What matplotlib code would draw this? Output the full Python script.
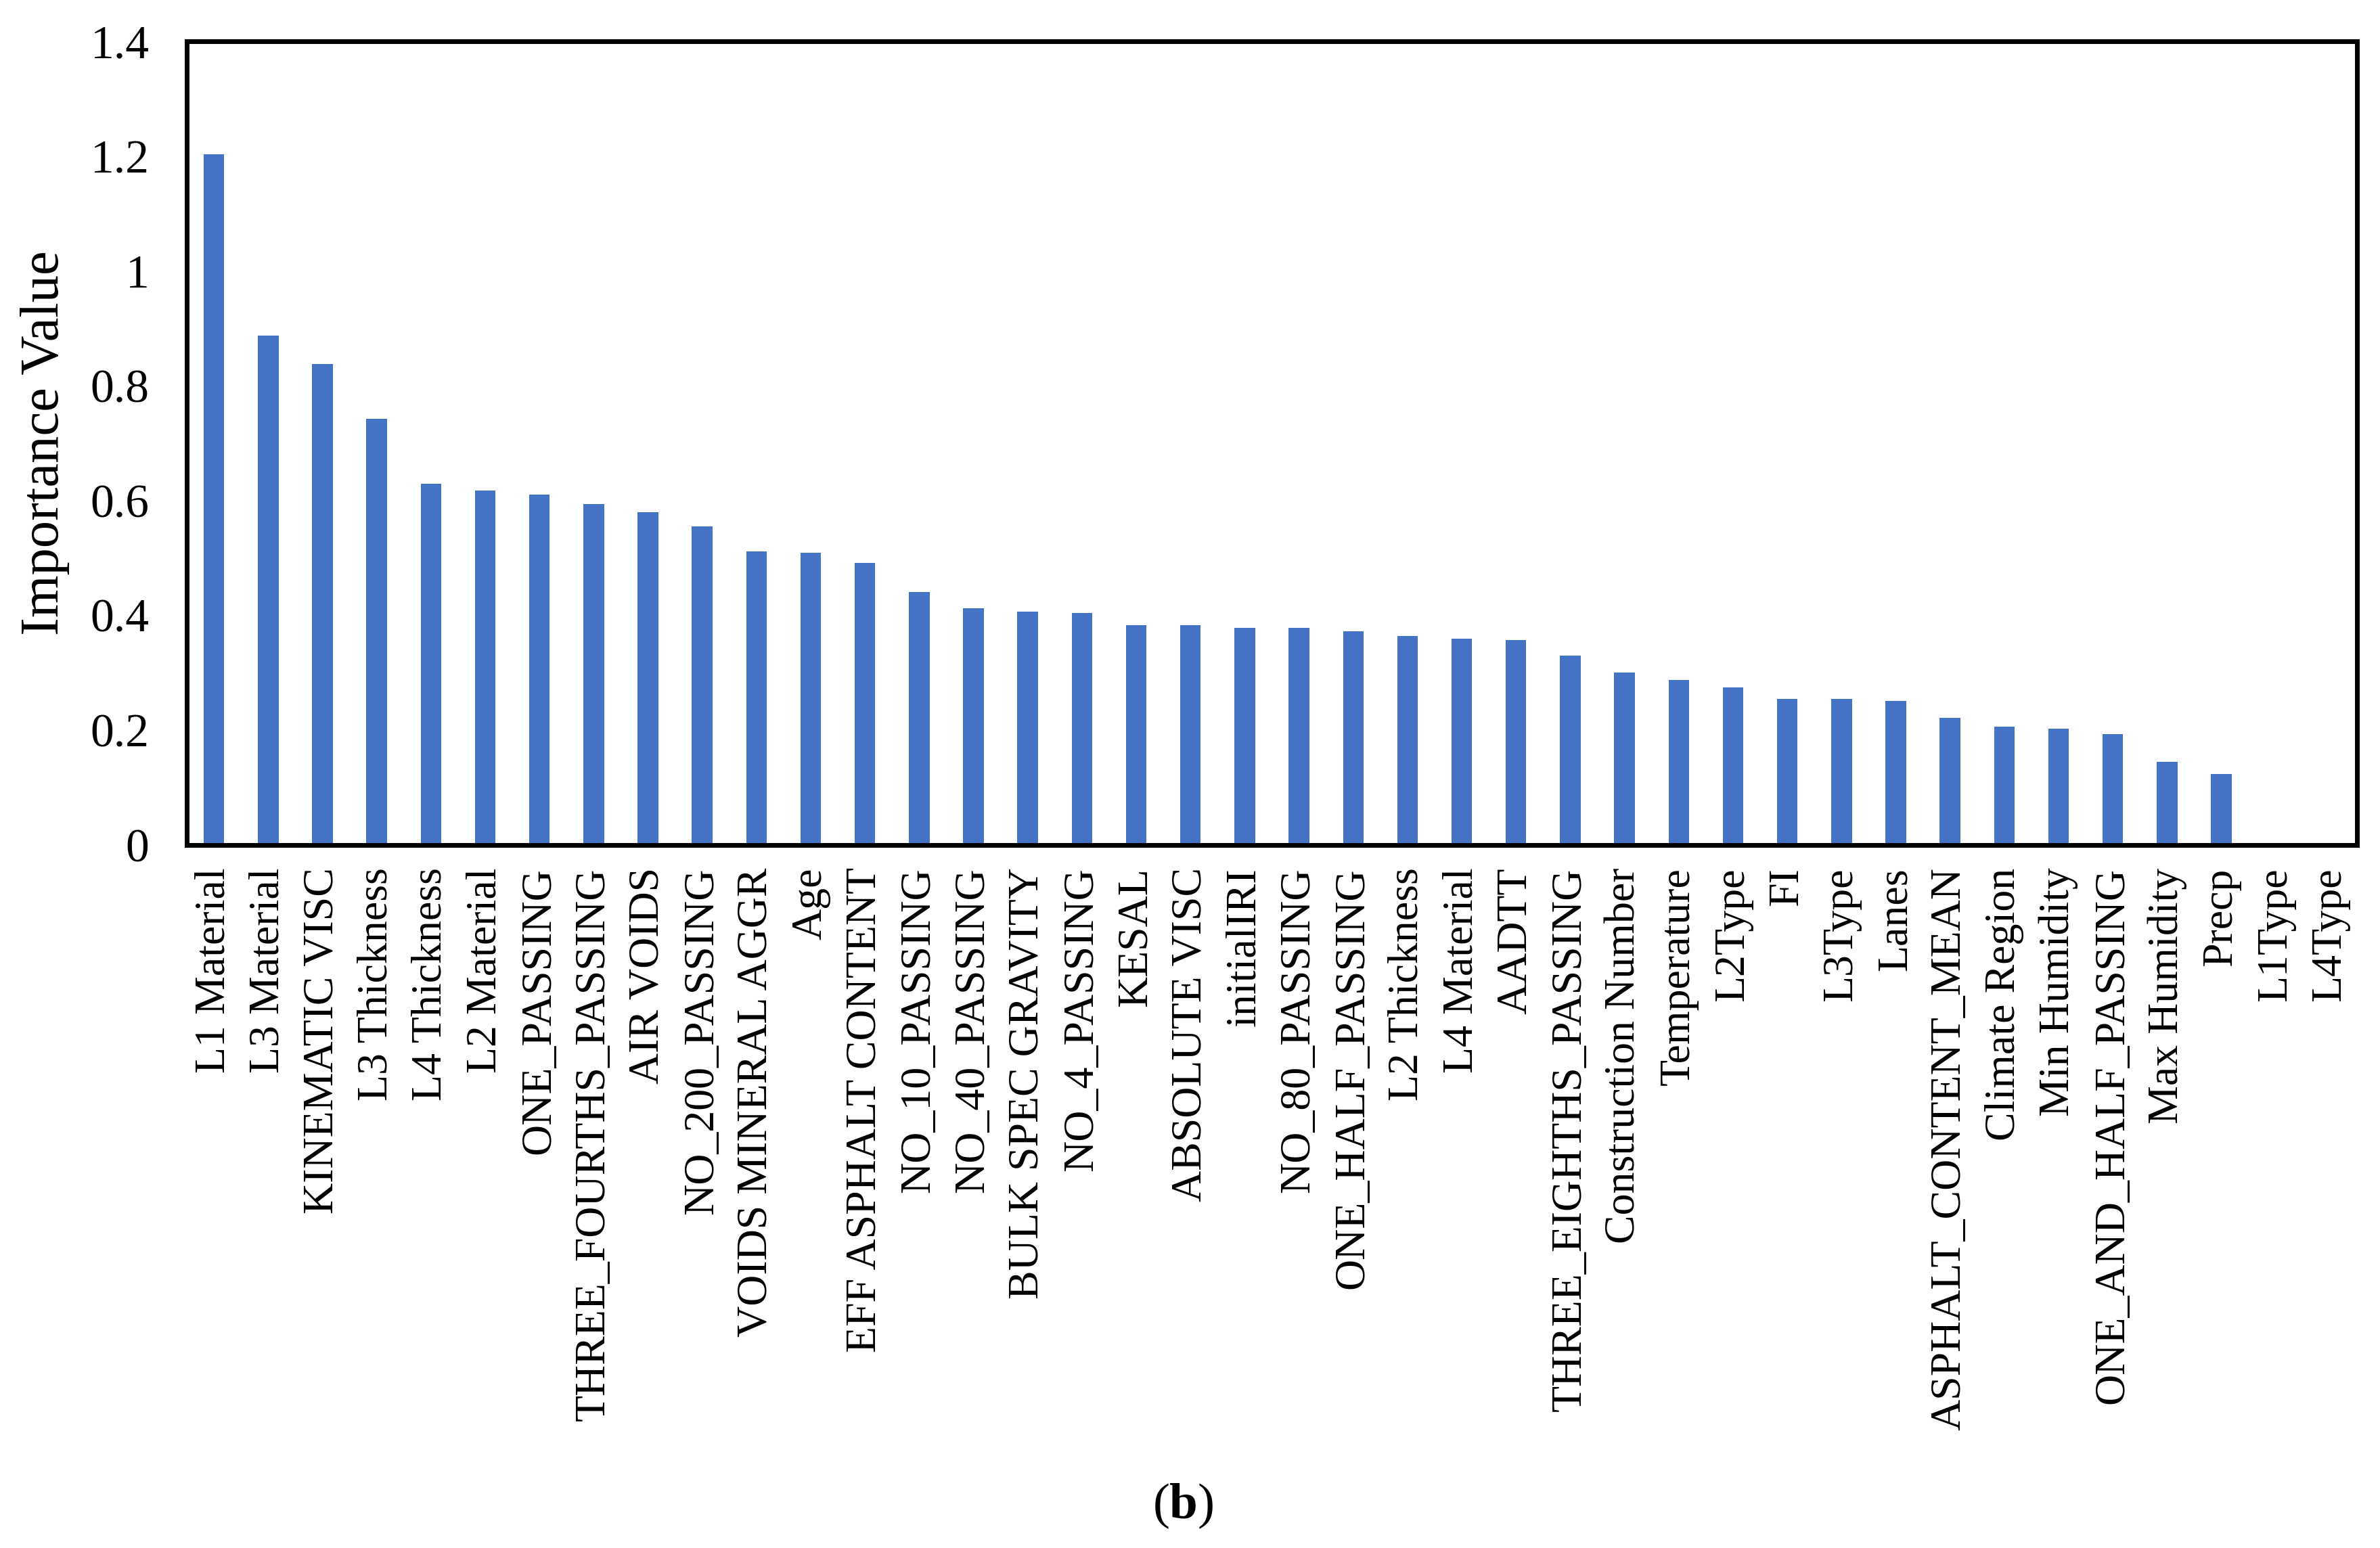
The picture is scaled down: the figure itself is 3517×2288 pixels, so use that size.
import matplotlib
matplotlib.use("Agg")
import matplotlib.pyplot as plt
from matplotlib.ticker import FuncFormatter

# ============ DATA ============
features = [
    "L1 Material", "L3 Material", "KINEMATIC VISC", "L3 Thickness", "L4 Thickness",
    "L2 Material", "ONE_PASSING", "THREE_FOURTHS_PASSING", "AIR VOIDS", "NO_200_PASSING",
    "VOIDS MINERAL AGGR", "Age", "EFF ASPHALT CONTENT", "NO_10_PASSING", "NO_40_PASSING",
    "BULK SPEC GRAVITY", "NO_4_PASSING", "KESAL", "ABSOLUTE VISC", "initialIRI",
    "NO_80_PASSING", "ONE_HALF_PASSING", "L2 Thickness", "L4 Material", "AADTT",
    "THREE_EIGHTHS_PASSING", "Construction Number", "Temperature", "L2Type", "FI",
    "L3Type", "Lanes", "ASPHALT_CONTENT_MEAN", "Climate Region", "Min Humidity",
    "ONE_AND_HALF_PASSING", "Max Humidity", "Precp", "L1Type", "L4Type",
]
importance = [
    1.203, 0.887, 0.838, 0.742, 0.629,
    0.618, 0.610, 0.594, 0.580, 0.555,
    0.512, 0.509, 0.491, 0.441, 0.412,
    0.407, 0.404, 0.383, 0.383, 0.378,
    0.378, 0.372, 0.364, 0.359, 0.357,
    0.330, 0.301, 0.288, 0.275, 0.254,
    0.254, 0.251, 0.222, 0.206, 0.203,
    0.193, 0.145, 0.124, 0.0, 0.0,
]
y_ticks = [0, 0.2, 0.4, 0.6, 0.8, 1.0, 1.2, 1.4]

# ============ STYLE ============
plt.rcParams['font.family'] = ['Liberation Serif', 'DejaVu Serif']
plt.rcParams['mathtext.fontset'] = 'custom'
plt.rcParams['mathtext.rm'] = 'Liberation Serif'
plt.rcParams['mathtext.bf'] = 'Liberation Serif:bold'
BAR_COLOR = "#4472C4"

fig = plt.figure(figsize=(17.585, 11.44), dpi=200)
ax = fig.add_axes([0.0785, 0.4541, 0.9118, 0.5192])

x = range(len(features))
ax.bar(x, importance, width=0.38, color=BAR_COLOR)

ax.set_xlim(-0.5, len(features) - 0.5)
ax.set_ylim(0, 1.4)
ax.set_yticks(y_ticks)
ax.yaxis.set_major_formatter(FuncFormatter(lambda v, _: f"{v:g}"))
ax.set_xticks(list(x))
ax.set_xticklabels(features, rotation=90, ha='center', va='top')

ax.tick_params(axis='y', length=0, pad=20, labelsize=25)
ax.tick_params(axis='x', length=0, pad=12, labelsize=23)

for side in ax.spines.values():
    side.set_linewidth(2.5)
    side.set_color("black")

ax.set_ylabel("Importance Value", fontsize=29)
ax.yaxis.set_label_coords(-0.054, 0.5)

# panel tag: "(b)" with bold b
fig.text(0.497, 0.027, r"($\mathbf{b}$)", fontsize=27, ha='center', va='center')

plt.savefig("out.png", dpi=200)
